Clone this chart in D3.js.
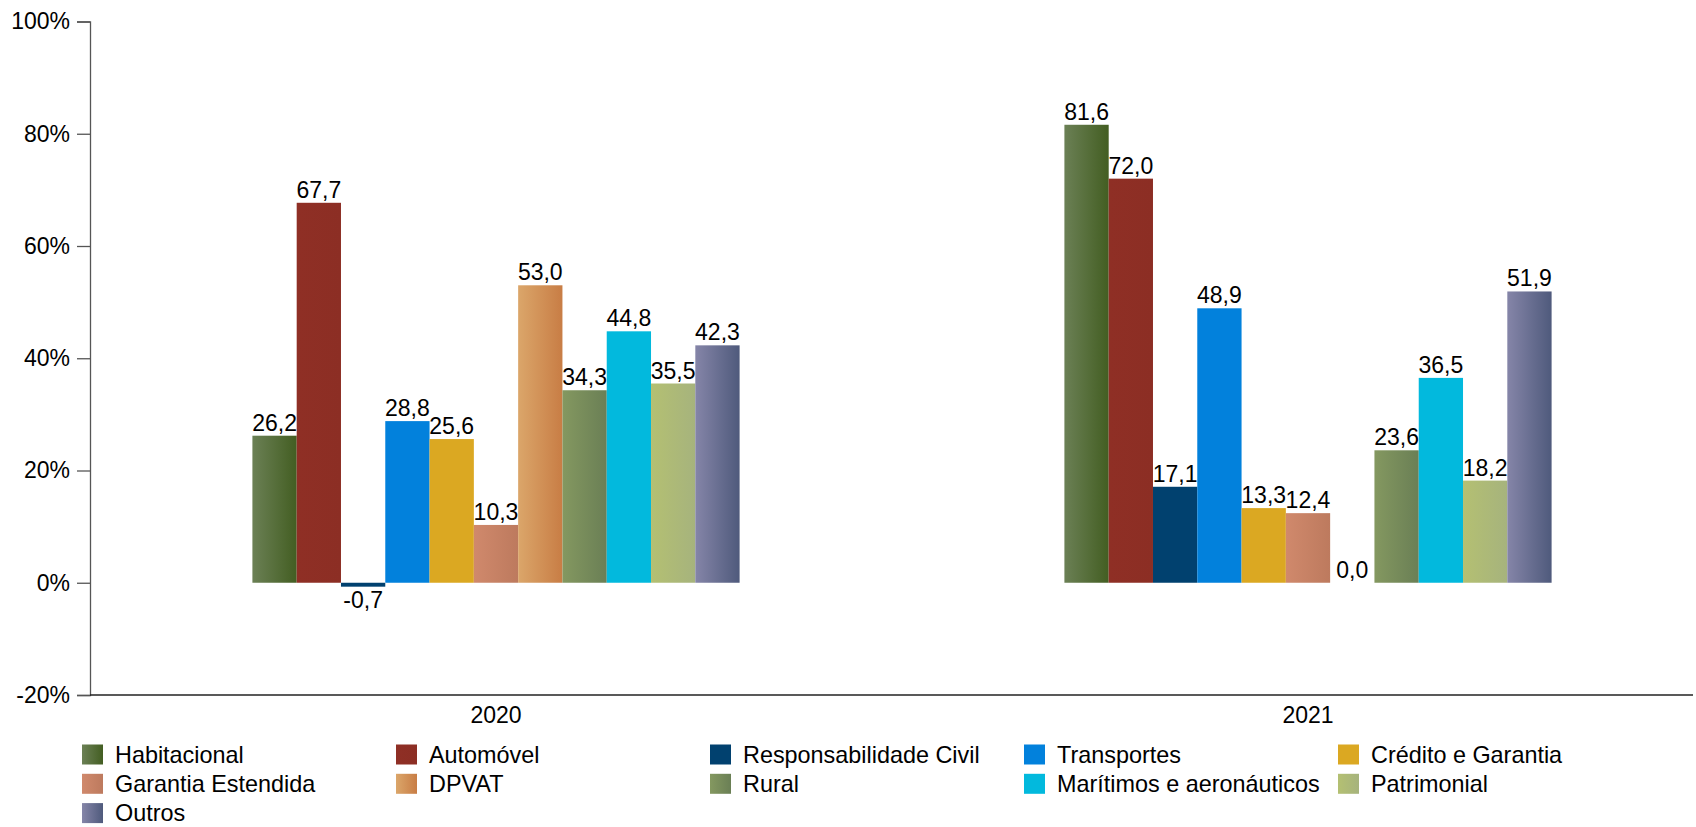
<!DOCTYPE html>
<html>
<head>
<meta charset="utf-8">
<script src="https://cdn.jsdelivr.net/npm/d3@7"></script>
<style>
  html, body { margin: 0; padding: 0; background: #fff; }
  svg { display: block; font-family: Arial, "Liberation Sans", sans-serif; }
</style>
</head>
<body>
<svg id="chart" width="1696" height="827"></svg>
<script>
const years = ["2020", "2021"];
const seriesNames = ["Habitacional", "Automóvel", "Responsabilidade Civil", "Transportes", "Crédito e Garantia",
  "Garantia Estendida", "DPVAT", "Rural", "Marítimos e aeronáuticos", "Patrimonial", "Outros"];
const values2020 = [26.2, 67.7, -0.7, 28.8, 25.6, 10.3, 53.0, 34.3, 44.8, 35.5, 42.3];
const values2021 = [81.6, 72.0, 17.1, 48.9, 13.3, 12.4, 0.0, 23.6, 36.5, 18.2, 51.9];
const yTicks = [-20, 0, 20, 40, 60, 80, 100];
// gradient colours (left, right) per series
const colorsLeft  = ["#6b8055", "#8f2f25", "#01416f", "#0281dc", "#dba822", "#d0896c", "#dba66a", "#849860", "#02b9dd", "#b4c072", "#8585a8"];
const colorsRight = ["#435e22", "#8c2e24", "#01416f", "#0281dc", "#dba822", "#bd7a5e", "#c87d45", "#6a7f55", "#02b9dd", "#a6b37d", "#4f5a7c"];

const valuesByYear = [values2020, values2021];
const svg = d3.select("#chart");
const FONT = 23;

const y = d3.scaleLinear().domain([-20, 100]).range([695, 21.5]);
const x0 = d3.scaleBand().domain(years).range([90, 1714]).paddingInner(0.4).paddingOuter(0.2);
const x1 = d3.scaleBand().domain(d3.range(seriesNames.length)).range([0, x0.bandwidth()]).padding(0);

const defs = svg.append("defs");
seriesNames.forEach((s, i) => {
  const g = defs.append("linearGradient").attr("id", "grad" + i)
    .attr("x1", "0%").attr("x2", "100%").attr("y1", "0%").attr("y2", "0%");
  g.append("stop").attr("offset", "0%").attr("stop-color", colorsLeft[i]);
  g.append("stop").attr("offset", "100%").attr("stop-color", colorsRight[i]);
});

// Bars
const groups = svg.selectAll("g.year").data(years).enter().append("g")
  .attr("class", "year")
  .attr("transform", d => `translate(${x0(d)},0)`);

groups.each(function(yr, yi) {
  const g = d3.select(this);
  const data = valuesByYear[yi].map((v, i) => ({ v, i }));
  g.selectAll("rect").data(data).enter().append("rect")
    .attr("x", d => x1(d.i))
    .attr("width", x1.bandwidth())
    .attr("y", d => y(Math.max(0, d.v)))
    .attr("height", d => Math.abs(y(d.v) - y(0)))
    .attr("fill", d => `url(#grad${d.i})`);
  g.selectAll("text.lbl").data(data).enter().append("text")
    .attr("class", "lbl")
    .attr("x", d => x1(d.i) + x1.bandwidth() / 2)
    .attr("y", d => d.v < 0 ? y(d.v) + 21 : y(d.v) - 5)
    .attr("text-anchor", "middle")
    .attr("font-size", FONT)
    .attr("fill", "#000")
    .text(d => d.v.toFixed(1).replace(".", ","));
});

// Y axis
const yAxis = d3.axisLeft(y).tickValues(yTicks).tickSize(13).tickPadding(7)
  .tickFormat(d => d + "%");
const yg = svg.append("g").attr("transform", "translate(90,0)").call(yAxis);
yg.select(".domain").attr("stroke", "#555").attr("stroke-width", 1.3);
yg.selectAll(".tick line").attr("stroke", "#555").attr("stroke-width", 1.3);
yg.selectAll(".tick text").attr("font-size", FONT).attr("fill", "#000")
  .attr("font-family", "Arial, 'Liberation Sans', sans-serif");

// X axis
const xAxis = d3.axisBottom(x0).tickSize(0).tickPadding(12);
const xg = svg.append("g").attr("transform", `translate(0,${y(-20)})`).call(xAxis);
xg.select(".domain").remove();
xg.append("line").attr("x1", 90).attr("x2", 1693).attr("y1", 0).attr("y2", 0)
  .attr("stroke", "#222").attr("stroke-width", 1.3);
xg.selectAll(".tick text").attr("font-size", FONT).attr("fill", "#000")
  .attr("font-family", "Arial, 'Liberation Sans', sans-serif");

// Legend
const legend = svg.append("g");
const colStep = 314, rowStep = 29.3, perRow = 5;
seriesNames.forEach((s, i) => {
  const col = i % perRow, row = Math.floor(i / perRow);
  const lg = legend.append("g").attr("transform", `translate(${82 + col * colStep},${754.5 + row * rowStep})`);
  lg.append("rect").attr("x", 0).attr("y", -10).attr("width", 21).attr("height", 20)
    .attr("fill", `url(#grad${i})`);
  lg.append("text").attr("x", 33).attr("y", 0).attr("dy", "0.35em")
    .attr("font-size", 23.4).attr("fill", "#000").text(s);
});
</script>
</body>
</html>
